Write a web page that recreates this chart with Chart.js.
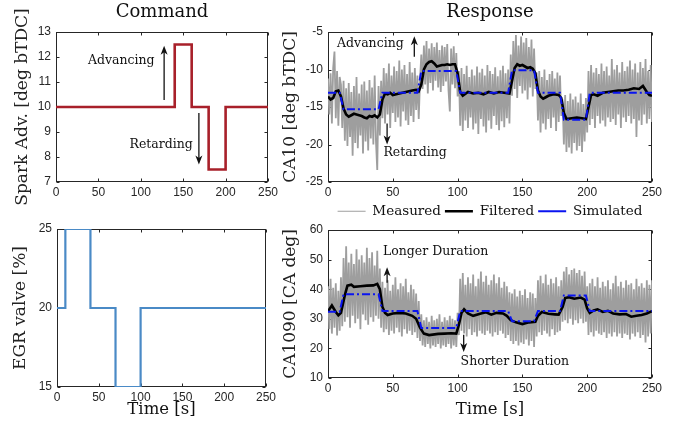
<!DOCTYPE html>
<html>
<head>
<meta charset="utf-8">
<script src="https://cdn.jsdelivr.net/npm/chart.js@4.4.1/dist/chart.umd.min.js"></script>
<style>
  html, body { margin: 0; padding: 0; background: #fff; }
  #page { position: relative; width: 683px; height: 421px; overflow: hidden; }
  #page canvas { position: absolute; }
</style>
</head>
<body>
<div id="page">
  <canvas id="spark" width="282" height="205" style="left:0;top:0"></canvas>
  <canvas id="egr" width="282" height="216" style="left:0;top:205px"></canvas>
  <canvas id="ca1090" width="400" height="226" style="left:275px;top:195px"></canvas>
  <canvas id="ca10" width="400" height="228" style="left:275px;top:0"></canvas>
</div>
<script>
// command inputs (step profiles)
const sparkTime = [0, 140, 140, 160, 160, 180, 180, 200, 200, 250];
const sparkAdv = [10, 10, 12.5, 12.5, 10, 10, 7.5, 7.5, 10, 10];
const egrTime = [0, 10, 10, 40, 40, 70, 70, 100, 100, 250];
const egrValve = [20, 20, 25, 25, 20, 20, 15, 15, 20, 20];

// measured CA10, one sample per second from t = 0
const measCA10 = [
	-11.2, -16.0, -10.5, -17.2, -9.8, -7.6, -16.5, -10.2, -17.5, -11.0,
	-12.0, -17.8, -11.5, -19.5, -12.5, -20.2, -11.8, -19.0, -13.0, -21.5,
	-12.2, -19.8, -11.0, -20.5, -13.2, -18.8, -12.0, -21.2, -11.6, -19.6,
	-12.8, -20.8, -11.4, -19.2, -12.4, -20.0, -10.8, -19.5, -23.4, -12.2,
	-18.8, -11.5, -16.5, -9.8, -17.2, -10.5, -16.0, -9.2, -17.8, -10.8,
	-15.8, -9.6, -17.0, -10.2, -16.4, -8.8, -17.6, -10.0, -15.6, -9.4,
	-16.8, -10.6, -17.4, -9.0, -16.2, -10.4, -17.0, -9.8, -15.4, -10.8,
	-16.6, -11.4, -8.0, -12.6, -6.8, -12.0, -6.2, -13.2, -7.2, -11.8,
	-6.5, -12.8, -7.0, -11.5, -6.4, -12.4, -7.4, -13.0, -6.8, -12.2,
	-7.0, -11.6, -6.6, -12.8, -15.6, -7.2, -12.0, -6.9, -12.5, -7.8,
	-13.6, -10.2, -17.5, -9.8, -18.2, -10.6, -16.8, -9.5, -17.8, -11.0,
	-16.4, -10.0, -18.0, -10.8, -17.2, -9.6, -18.6, -10.4, -16.6, -9.9,
	-17.6, -10.8, -18.4, -9.4, -16.8, -10.2, -17.9, -10.6, -16.2, -9.7,
	-17.4, -10.9, -18.1, -10.1, -16.9, -9.5, -17.7, -10.5, -16.5, -10.0,
	-17.2, -8.0, -13.5, -6.2, -12.6, -5.4, -13.8, -6.8, -12.2, -5.6,
	-13.2, -6.4, -12.8, -5.8, -14.0, -7.0, -12.4, -6.0, -13.6, -7.2,
	-12.6, -10.4, -16.8, -10.2, -18.4, -11.0, -17.2, -10.0, -18.0, -11.4,
	-16.6, -10.6, -17.8, -10.2, -16.4, -11.2, -18.2, -10.4, -17.0, -10.8,
	-16.2, -14.0, -20.0, -13.4, -21.0, -14.2, -20.4, -13.2, -21.2, -14.0,
	-19.8, -13.6, -20.8, -14.4, -20.2, -13.2, -21.0, -14.6, -19.6, -13.8,
	-18.4, -10.2, -17.4, -9.4, -16.6, -10.4, -17.8, -9.8, -16.2, -10.6,
	-17.2, -9.2, -16.8, -10.2, -17.6, -9.6, -16.4, -10.8, -17.0, -8.6,
	-16.6, -10.0, -17.4, -9.4, -16.0, -10.4, -17.8, -9.0, -16.4, -10.2,
	-17.0, -9.6, -16.2, -8.8, -17.2, -10.0, -16.6, -9.2, -19.0, -10.4,
	-16.8, -9.0, -17.4, -9.8, -16.0, -8.6, -17.2, -10.2, -16.6, -9.4,
	-17.0,
];

// measured CA1090, one sample per second from t = 0
const measCA1090 = [
	41.0, 26.5, 43.5, 25.0, 40.5, 27.0, 42.0, 24.4, 39.5, 26.0,
	44.0, 27.5, 50.5, 29.0, 54.5, 30.5, 49.0, 27.0, 52.0, 31.0,
	48.5, 28.5, 53.5, 30.0, 50.0, 26.5, 51.5, 31.5, 49.0, 29.5,
	54.0, 28.0, 50.5, 30.5, 52.5, 29.0, 48.0, 31.0, 53.0, 30.0,
	47.0, 27.0, 42.5, 25.5, 40.5, 26.5, 43.0, 24.5, 39.5, 26.0,
	41.5, 25.0, 44.0, 27.0, 40.0, 25.5, 42.0, 24.0, 41.0, 26.5,
	43.5, 25.0, 39.0, 26.0, 41.5, 24.5, 40.0, 25.5, 38.5, 23.5,
	36.0, 22.5, 31.5, 21.0, 29.5, 20.5, 30.5, 21.5, 29.0, 20.0,
	31.0, 21.0, 29.5, 20.5, 30.0, 21.5, 31.5, 20.0, 29.0, 21.0,
	30.5, 20.5, 29.5, 21.5, 31.0, 20.0, 30.0, 21.0, 29.5, 20.5,
	32.0, 24.5, 43.5, 26.0, 45.5, 25.0, 41.5, 24.0, 44.0, 26.5,
	42.0, 24.5, 45.0, 25.5, 41.0, 24.0, 43.5, 26.0, 46.0, 25.0,
	42.5, 24.5, 44.5, 26.0, 41.5, 25.0, 43.0, 24.0, 45.0, 25.5,
	42.0, 24.5, 44.0, 26.0, 40.5, 25.0, 42.5, 23.5, 41.0, 24.5,
	39.0, 22.5, 38.5, 21.5, 40.0, 22.5, 37.5, 21.0, 39.5, 22.0,
	38.0, 21.5, 40.0, 23.0, 37.0, 21.0, 39.0, 22.5, 38.5, 20.5,
	37.0, 24.0, 43.0, 25.5, 44.5, 24.5, 42.0, 26.0, 45.0, 25.0,
	41.5, 24.0, 43.5, 26.5, 42.0, 24.5, 44.0, 25.5, 41.0, 26.0,
	43.0, 29.0, 46.0, 29.5, 47.5, 28.5, 45.0, 30.0, 46.5, 28.0,
	47.0, 29.5, 45.5, 28.5, 46.5, 30.0, 44.5, 28.5, 46.0, 29.0,
	41.0, 24.5, 42.0, 25.5, 43.5, 24.0, 41.0, 26.0, 44.0, 25.0,
	40.5, 24.5, 42.5, 25.5, 41.0, 23.5, 43.0, 25.0, 40.0, 24.0,
	42.0, 25.5, 44.5, 24.0, 41.0, 25.0, 42.5, 23.5, 40.5, 25.0,
	43.0, 24.5, 41.5, 23.0, 42.0, 25.0, 40.0, 24.0, 43.5, 25.5,
	41.0, 23.5, 42.0, 24.5, 40.5, 22.0, 43.0, 24.0, 41.5, 25.0,
	43.0,
];

// filtered responses
const filtTimeCA10 = [0, 2, 4, 6, 8, 10, 12, 14, 16, 18, 20, 22, 24, 26, 28, 30, 32, 34, 36, 38, 40, 42, 44, 46, 48, 50, 55, 60, 65, 68, 70, 72, 74, 76, 78, 80, 82, 84, 86, 88, 90, 92, 94, 96, 98, 100, 102, 104, 108, 112, 116, 120, 124, 128, 132, 136, 140, 142, 144, 146, 148, 150, 152, 154, 156, 158, 160, 162, 164, 166, 168, 170, 174, 178, 180, 182, 184, 188, 192, 196, 199, 201, 203, 205, 208, 212, 216, 220, 224, 228, 232, 236, 240, 243, 246, 248, 250];
const filtCA10 = [-13.6, -14.0, -13.8, -12.9, -12.8, -13.6, -15.2, -16.0, -16.3, -16.1, -15.9, -16.0, -16.1, -16.2, -16.4, -16.5, -16.2, -16.3, -16.1, -16.4, -16.0, -14.0, -13.2, -13.3, -13.1, -13.4, -13.2, -13.0, -12.8, -12.7, -12.9, -12.0, -10.0, -9.3, -9.0, -8.9, -9.2, -9.6, -9.5, -9.4, -9.4, -9.3, -9.4, -9.3, -9.3, -10.5, -13.0, -13.5, -13.0, -13.2, -13.1, -13.3, -13.0, -13.2, -13.0, -13.1, -13.2, -11.5, -9.8, -9.3, -9.5, -9.4, -9.6, -9.8, -9.7, -9.9, -10.5, -12.8, -13.6, -13.9, -13.7, -13.5, -13.3, -13.4, -13.8, -15.8, -16.6, -16.5, -16.4, -16.5, -16.6, -15.0, -13.4, -13.3, -13.5, -13.1, -13.0, -12.9, -12.8, -12.8, -12.7, -12.5, -12.6, -12.2, -13.0, -13.4, -13.5];
const filtTimeCA1090 = [0, 3, 6, 8, 10, 13, 15, 18, 20, 25, 30, 35, 38, 40, 42, 44, 46, 50, 55, 60, 65, 68, 71, 74, 78, 85, 90, 95, 99, 101, 103, 105, 108, 112, 118, 122, 126, 130, 135, 138, 141, 145, 150, 155, 160, 162, 165, 170, 175, 178, 181, 183, 186, 190, 195, 198, 200, 202, 205, 208, 212, 216, 220, 225, 230, 234, 238, 242, 246, 250];
const filtCA1090 = [32.5, 34.5, 32.3, 31.2, 32.0, 38.0, 41.2, 41.5, 40.8, 41.0, 41.2, 41.3, 41.8, 40.0, 34.0, 32.0, 31.3, 31.8, 32.0, 31.8, 31.0, 30.0, 27.0, 25.0, 24.5, 24.9, 25.0, 25.1, 25.0, 28.0, 32.0, 33.2, 31.8, 31.0, 31.8, 32.2, 31.4, 32.0, 31.8, 31.0, 29.5, 28.8, 28.2, 28.8, 29.0, 31.0, 32.3, 31.7, 31.5, 31.4, 34.0, 37.0, 37.3, 36.8, 37.2, 36.5, 33.5, 32.0, 32.8, 33.2, 32.3, 32.7, 31.8, 31.5, 31.6, 30.7, 31.0, 31.3, 31.8, 32.6];

// simulated responses
const simTime = [0, 9, 12, 39, 42, 69, 72, 99, 102, 139, 142, 159, 162, 179, 182, 199, 202, 250];
const simCA10 = [-13.1, -13.1, -15.3, -15.3, -13.1, -13.1, -10.2, -10.2, -13.1, -13.1, -10.1, -10.1, -13.1, -13.1, -16.7, -16.7, -13.1, -13.1];
const simCA1090 = [32.4, 32.4, 38.3, 38.3, 32.6, 32.6, 26.9, 26.9, 32.6, 32.6, 29.2, 29.2, 32.6, 32.6, 37.9, 37.9, 32.6, 32.6];

// annotation anchors (data units)
const sparkNotes = [{text: "Advancing", x: 77, y: 11.85}, {text: "Retarding", x: 124, y: 8.48}];
const sparkArrows = [{x: 127.5, from: 10.28, to: 12.45}, {x: 168.5, from: 9.76, to: 7.7}];
const ca10Notes = [{text: "Advancing", x: 32.7, y: -6.6}, {text: "Retarding", x: 67.2, y: -21.1}];
const ca10Arrows = [{x: 66.6, from: -8.3, to: -5.55}, {x: 45.6, from: -17.2, to: -20.0}];
const ca1090Notes = [{text: "Longer Duration", x: 83, y: 52.6}, {text: "Shorter Duration", x: 144.2, y: 15.4}];
const ca1090Arrows = [{x: 45.6, from: 42.2, to: 47.4}, {x: 104.7, from: 24.6, to: 18.8}];

const serif = "'DejaVu Serif', serif";
const sans = "'Liberation Sans', Arial, sans-serif";
const ink = "#262626";

const pts = (xs, ys) => ys.map((v, i) => ({x: xs[i], y: v}));
const secs = measCA10.map((_, i) => i);

// box around the plot with inward tick marks, matlab style
const framePlugin = {
	id: "frame",
	beforeDatasetsDraw(chart) {
		const {ctx, chartArea: a, scales} = chart;
		const l = Math.round(a.left) + 0.5;
		const r = Math.round(a.right) - 0.5;
		const t = Math.round(a.top) + 0.5;
		const b = Math.round(a.bottom) - 0.5;
		ctx.save();
		ctx.strokeStyle = ink;
		ctx.lineWidth = 1;
		ctx.strokeRect(l, t, r - l, b - t);
		ctx.beginPath();
		for (const tk of scales.x.ticks) {
			const px = Math.round(scales.x.getPixelForValue(tk.value)) + 0.5;
			ctx.moveTo(px, b); ctx.lineTo(px, b - 3);
			ctx.moveTo(px, t); ctx.lineTo(px, t + 3);
		}
		for (const tk of scales.y.ticks) {
			const py = Math.round(scales.y.getPixelForValue(tk.value)) + 0.5;
			ctx.moveTo(l, py); ctx.lineTo(l + 3, py);
			ctx.moveTo(r, py); ctx.lineTo(r - 3, py);
		}
		ctx.stroke();
		ctx.restore();
	},
};

// text labels and arrows inside the plots
const notesPlugin = {
	id: "notes",
	afterDatasetsDraw(chart, args, opts) {
		const {ctx, scales: {x, y}} = chart;
		ctx.save();
		ctx.fillStyle = "#111";
		ctx.strokeStyle = "#111";
		ctx.font = `12.5px ${serif}`;
		ctx.textAlign = "center";
		ctx.textBaseline = "middle";
		for (const n of opts.labels || []) {
			ctx.fillText(n.text, x.getPixelForValue(n.x), y.getPixelForValue(n.y));
		}
		for (const ar of opts.arrows || []) {
			const px = x.getPixelForValue(ar.x);
			const y0 = y.getPixelForValue(ar.from);
			const y1 = y.getPixelForValue(ar.to);
			const dir = Math.sign(y1 - y0);
			ctx.lineWidth = 1.3;
			ctx.beginPath();
			ctx.moveTo(px, y0);
			ctx.lineTo(px, y1 - dir * 6);
			ctx.stroke();
			ctx.beginPath();
			ctx.moveTo(px, y1);
			ctx.lineTo(px - 3.5, y1 - dir * 9);
			ctx.lineTo(px, y1 - dir * 6.5);
			ctx.lineTo(px + 3.5, y1 - dir * 9);
			ctx.closePath();
			ctx.fill();
		}
		ctx.restore();
	},
};

function xAxis(height, title) {
	return {
		type: "linear",
		min: 0,
		max: 250,
		ticks: {stepSize: 50, color: ink, font: {family: sans, size: 12}, padding: 3, maxRotation: 0},
		grid: {display: false, drawTicks: false},
		border: {display: false},
		title: title
			? {display: true, text: title, color: "#111", font: {family: serif, size: 16.5}, padding: {top: 0, bottom: 1.6}}
			: {display: false},
		afterFit(scale) {
			scale.height = height;
		},
	};
}

function yAxis(width, min, max, step, title, pad) {
	return {
		type: "linear",
		min,
		max,
		ticks: {stepSize: step, color: ink, font: {family: sans, size: 12}, padding: 5},
		grid: {display: false, drawTicks: false},
		border: {display: false},
		title: {display: true, text: title, color: "#222", font: {family: serif, size: 17}, padding: {top: pad, bottom: 0}},
		afterFit(scale) {
			scale.width = width;
		},
	};
}

function titleOpts(text) {
	return {
		display: true,
		text,
		fullSize: false,
		color: "#111",
		font: {family: serif, size: 18, weight: "normal"},
		padding: {top: 2, bottom: 8.4},
	};
}

function responseSets(meas, filtT, filt, sim) {
	return [
		{label: "Measured", data: pts(secs, meas), borderColor: "#9e9e9e", backgroundColor: "#9e9e9e", borderWidth: 1.8, order: 3},
		{label: "Filtered", data: pts(filtT, filt), borderColor: "#000000", backgroundColor: "#000000", borderWidth: 2.6, order: 2},
		{label: "Simulated", data: pts(simTime, sim), borderColor: "#0a14f0", backgroundColor: "#0a14f0", borderWidth: 2, borderDash: [8, 3, 2, 3], order: 1},
	];
}

Chart.defaults.animation = false;
Chart.defaults.responsive = false;
Chart.defaults.elements.point.radius = 0;
Chart.defaults.elements.line.tension = 0;
Chart.defaults.plugins.legend.display = false;
Chart.defaults.plugins.tooltip.enabled = false;

const baseLabels = Chart.defaults.plugins.legend.labels.generateLabels;

new Chart(document.querySelector("#spark"), {
	type: "line",
	data: {datasets: [{data: pts(sparkTime, sparkAdv), borderColor: "#a8202a", borderWidth: 2.6}]},
	options: {
		layout: {padding: {top: 0, right: 14, left: 0, bottom: 0}},
		scales: {x: xAxis(23), y: yAxis(56, 7, 13, 1, "Spark Adv. [deg bTDC]", 12.4)},
		plugins: {title: titleOpts("Command"), notes: {labels: sparkNotes, arrows: sparkArrows}},
	},
	plugins: [framePlugin, notesPlugin],
});

new Chart(document.querySelector("#egr"), {
	type: "line",
	data: {datasets: [{data: pts(egrTime, egrValve), borderColor: "#4a8ac6", borderWidth: 2.2}]},
	options: {
		layout: {padding: {top: 24, right: 16, left: 0, bottom: 0}},
		scales: {x: xAxis(34, "Time [s]"), y: yAxis(57, 15, 25, 5, "EGR valve [%]", 10.4)},
	},
	plugins: [framePlugin],
});

new Chart(document.querySelector("#ca1090"), {
	type: "line",
	data: {datasets: responseSets(measCA1090, filtTimeCA1090, filtCA1090, simCA1090)},
	options: {
		layout: {padding: {top: 35, right: 23, left: 0, bottom: 0}},
		scales: {x: xAxis(43, "Time [s]"), y: yAxis(53, 10, 60, 10, "CA1090 [CA deg]", 5.4)},
		plugins: {notes: {labels: ca1090Notes, arrows: ca1090Arrows}},
	},
	plugins: [framePlugin, notesPlugin],
});

new Chart(document.querySelector("#ca10"), {
	type: "line",
	data: {datasets: responseSets(measCA10, filtTimeCA10, filtCA10, simCA10)},
	options: {
		layout: {padding: {top: 0, right: 23, left: 0, bottom: 0}},
		scales: {x: xAxis(18.5), y: yAxis(53, -25, -5, 5, "CA10 [deg bTDC]", 5.4)},
		plugins: {
			title: titleOpts("Response"),
			notes: {labels: ca10Notes, arrows: ca10Arrows},
			legend: {
				display: true,
				position: "bottom",
				fullSize: false,
				labels: {
					usePointStyle: true,
					pointStyle: "line",
					pointStyleWidth: 28,
					color: "#111",
					font: {family: serif, size: 13.5},
					padding: 4,
					sort: (a, b) => a.datasetIndex - b.datasetIndex,
					// thin sample line for the noisy trace
					generateLabels: (chart) => baseLabels(chart).map((item) => (item.text === "Measured" ? {...item, lineWidth: 1} : item)),
				},
			},
		},
	},
	plugins: [framePlugin, notesPlugin],
});
</script>
</body>
</html>
